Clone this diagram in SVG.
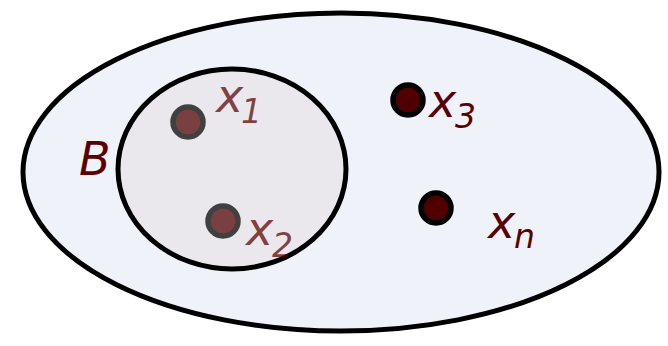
<svg xmlns="http://www.w3.org/2000/svg" width="668" height="346" viewBox="0 0 668 346">
<style>
.lbl{font-family:"DejaVu Sans",sans-serif;font-style:italic;fill:#5a0000;font-size:46px}
.sub{font-size:33px}
.dot{fill:#500000;stroke:#000;stroke-width:5.5}
</style>
<rect width="668" height="346" fill="#fff"/>
<g id="outer"><ellipse cx="341" cy="172" rx="318" ry="159" fill="#eff2f8" stroke="#000" stroke-width="5"/></g>
<g id="B"><ellipse cx="232" cy="169" rx="114" ry="100" fill="#ebe8ed" stroke="#000" stroke-width="5"/>
<text class="lbl" x="79" y="175">B</text></g>
<g id="x1" opacity="0.72"><circle class="dot" cx="188" cy="122" r="15"/>
<text class="lbl" x="216" y="112">x<tspan class="sub" x="241" y="123">1</tspan></text></g>
<g id="x2" opacity="0.72"><circle class="dot" cx="223" cy="221" r="15"/>
<text class="lbl" x="246" y="245">x<tspan class="sub" x="272" y="257">2</tspan></text></g>
<g id="x3"><circle class="dot" cx="408" cy="100" r="15"/>
<text class="lbl" x="429" y="117">x<tspan class="sub" x="455" y="128">3</tspan></text></g>
<g id="xn"><circle class="dot" cx="436" cy="208" r="15"/>
<text class="lbl" x="488" y="238">x<tspan class="sub" x="514" y="248">n</tspan></text></g>
<g id="connectors"/>
</svg>
